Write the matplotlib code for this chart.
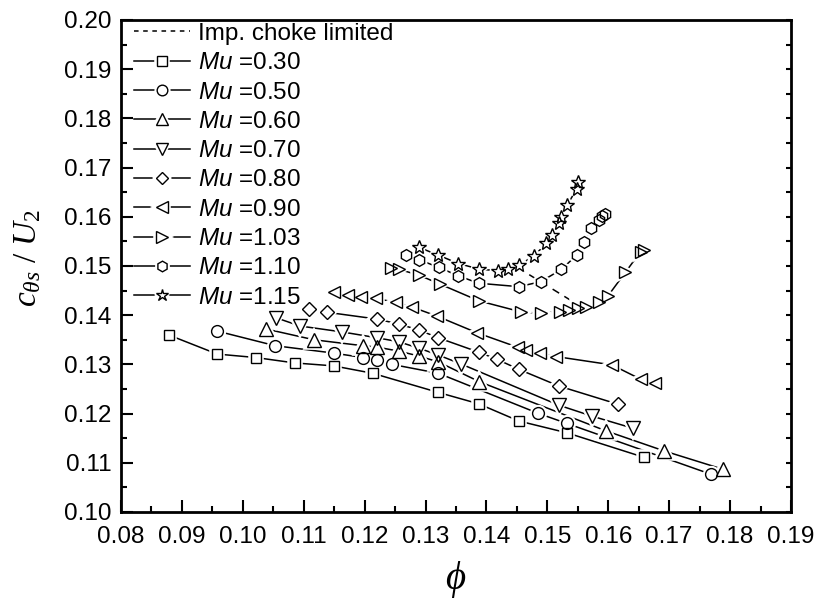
import matplotlib
matplotlib.use('Agg')
import matplotlib.pyplot as plt
from matplotlib.lines import Line2D
from matplotlib.legend_handler import HandlerTuple
from matplotlib.ticker import MultipleLocator, FormatStrFormatter

plt.rcParams['font.family'] = ['Liberation Sans', 'DejaVu Sans']
plt.rcParams['mathtext.fontset'] = 'custom'
plt.rcParams['mathtext.rm'] = 'Liberation Serif'
plt.rcParams['mathtext.it'] = 'Liberation Serif:italic'
plt.rcParams['mathtext.sf'] = 'Liberation Sans:italic'

# ---------------- data ----------------
mu_labels = ['0.30', '0.50', '0.60', '0.70', '0.80', '0.90', '1.03', '1.10', '1.15']

phi_030 = [0.0878, 0.0958, 0.1021, 0.1085, 0.1149, 0.1213, 0.1321, 0.1387, 0.1453, 0.1532, 0.1659]
c_030 = [0.1360, 0.1321, 0.1314, 0.1303, 0.1297, 0.1282, 0.1243, 0.1220, 0.1185, 0.1161, 0.1111]

phi_050 = [0.0957, 0.1053, 0.1149, 0.1197, 0.1221, 0.1245, 0.1321, 0.1484, 0.1532, 0.1768]
c_050 = [0.1368, 0.1338, 0.1323, 0.1314, 0.1309, 0.1300, 0.1282, 0.1201, 0.1180, 0.1077]

phi_060 = [0.1038, 0.1117, 0.1197, 0.1221, 0.1256, 0.1289, 0.1321, 0.1388, 0.1596, 0.1692, 0.1788]
c_060 = [0.1372, 0.1350, 0.1338, 0.1335, 0.1327, 0.1317, 0.1305, 0.1265, 0.1165, 0.1124, 0.1087]

phi_070 = [0.1054, 0.1094, 0.1163, 0.1221, 0.1256, 0.1289, 0.1321, 0.1358, 0.1519, 0.1573, 0.1641]
c_070 = [0.1395, 0.1378, 0.1366, 0.1354, 0.1346, 0.1333, 0.1319, 0.1301, 0.1217, 0.1195, 0.1170]

phi_080 = [0.1108, 0.1138, 0.1221, 0.1256, 0.1289, 0.1321, 0.1387, 0.1418, 0.1453, 0.1519, 0.1616]
c_080 = [0.1413, 0.1406, 0.1392, 0.1382, 0.1370, 0.1354, 0.1325, 0.1310, 0.1290, 0.1256, 0.1219]

phi_090 = [0.1149, 0.1172, 0.1194, 0.1218, 0.1252, 0.1277, 0.1319, 0.1385, 0.1451, 0.1465,
           0.1488, 0.1514, 0.1606, 0.1653, 0.1677]
c_090 = [0.1448, 0.1441, 0.1438, 0.1434, 0.1426, 0.1417, 0.1398, 0.1364, 0.1335, 0.1329,
         0.1323, 0.1316, 0.1299, 0.1270, 0.1263]

phi_103 = [0.1243, 0.1257, 0.1290, 0.1324, 0.1388, 0.1456, 0.1489, 0.1520, 0.1535, 0.1550,
           0.1563, 0.1585, 0.1600, 0.1628, 0.1653, 0.1659]
c_103 = [0.1495, 0.1493, 0.1481, 0.1463, 0.1429, 0.1407, 0.1404, 0.1407, 0.1411, 0.1414,
         0.1416, 0.1427, 0.1440, 0.1487, 0.1529, 0.1533]

phi_110 = [0.1268, 0.1289, 0.1322, 0.1354, 0.1387, 0.1453, 0.1489, 0.1523, 0.1548, 0.1560,
           0.1572, 0.1585, 0.1589, 0.1594]
c_110 = [0.1522, 0.1513, 0.1497, 0.1480, 0.1465, 0.1458, 0.1468, 0.1493, 0.1522, 0.1548,
         0.1577, 0.1593, 0.1601, 0.1606]

phi_115 = [0.1289, 0.1321, 0.1354, 0.1387, 0.1419, 0.1436, 0.1453, 0.1478, 0.1498, 0.1507,
           0.1519, 0.1522, 0.1533, 0.1548, 0.1551]
c_115 = [0.1538, 0.1522, 0.1505, 0.1494, 0.1490, 0.1494, 0.1502, 0.1520, 0.1546, 0.1563,
         0.1588, 0.1600, 0.1625, 0.1656, 0.1671]

choke_phi = [0.1451, 0.1489, 0.1557]
choke_c = [0.1497, 0.1468, 0.1416]

phis = [phi_030, phi_050, phi_060, phi_070, phi_080, phi_090, phi_103, phi_110, phi_115]
cs = [c_030, c_050, c_060, c_070, c_080, c_090, c_103, c_110, c_115]

markers = ['s', 'o', '^', 'v', 'D', '<', '>', 'h', '*']
msizes = [7.5, 8.5, 9.5, 9.5, 7, 9, 9, 8.5, 10]

# ---------------- figure ----------------
fig = plt.figure(figsize=(8.18, 6.03), dpi=100)
ax = fig.add_axes([121 / 818, 1 - 512 / 603, 670 / 818, 492 / 603])

ax.plot(choke_phi, choke_c, color='k', lw=1.1, ls=(0, (5, 4)), zorder=2)

for x, y, m, s in zip(phis, cs, markers, msizes):
    ax.plot(x, y, '-', color='k', lw=1.1, zorder=2)
    ax.plot(x, y, ls='none', marker=m, ms=s, mfc='white', mec='white', mew=4, zorder=3)
for x, y, m, s in zip(phis, cs, markers, msizes):
    ax.plot(x, y, ls='none', marker=m, ms=s, mfc='none', mec='k', mew=1.0, zorder=4)

ax.set_xlim(0.08, 0.19)
ax.set_ylim(0.10, 0.20)
ax.xaxis.set_major_locator(MultipleLocator(0.01))
ax.xaxis.set_minor_locator(MultipleLocator(0.005))
ax.yaxis.set_major_locator(MultipleLocator(0.01))
ax.yaxis.set_minor_locator(MultipleLocator(0.005))
ax.xaxis.set_major_formatter(FormatStrFormatter('%.2f'))
ax.yaxis.set_major_formatter(FormatStrFormatter('%.2f'))
ax.tick_params(which='major', direction='in', length=8.5, width=1.5, labelsize=17.5, pad=7)
ax.tick_params(axis='x', which='major', pad=10)
ax.tick_params(which='minor', direction='in', length=4.5, width=1.5)
for sp in ax.spines.values():
    sp.set_linewidth(2)

ax2 = ax.twinx()
ax2.set_ylim(0.10, 0.20)
ax2.yaxis.set_major_locator(MultipleLocator(0.01))
ax2.yaxis.set_minor_locator(MultipleLocator(0.005))
ax2.tick_params(which='both', direction='in', length=3.5, width=1.5, labelright=False)
for sp in ax2.spines.values():
    sp.set_visible(False)

# legend
handles = [Line2D([], [], color='k', lw=1.1, ls=(0, (3, 3)))]
labels = ['Imp. choke limited']
for m, s, lab in zip(markers, msizes, mu_labels):
    ln = Line2D([], [], color='k', lw=1.1)
    halo = Line2D([], [], ls='none', marker=m, ms=s * 0.9, mfc='white', mec='white', mew=4)
    mk = Line2D([], [], ls='none', marker=m, ms=s * 0.9, mfc='none', mec='k', mew=1.0)
    handles.append((ln, halo, mk))
    labels.append(r'$\mathsf{Mu}$ =' + lab)

leg = ax.legend(handles, labels, loc='upper left', bbox_to_anchor=(0.019, 0.994),
                frameon=False, fontsize=17.5, handlelength=2.3, handletextpad=0.35,
                labelspacing=0.30, borderaxespad=0, borderpad=0,
                handler_map={tuple: HandlerTuple(ndivide=1)})
leg.set_zorder(10)

fig.text(28 / 818, 1 - 258 / 603, r'$c_{\theta s}\ /\ U_2$', rotation=90,
         ha='center', va='center', fontsize=24)
fig.text(456 / 818, 1 - 580 / 603, r'$\phi$', ha='center', va='center', fontsize=28)

fig.savefig('out.png', dpi=100)
